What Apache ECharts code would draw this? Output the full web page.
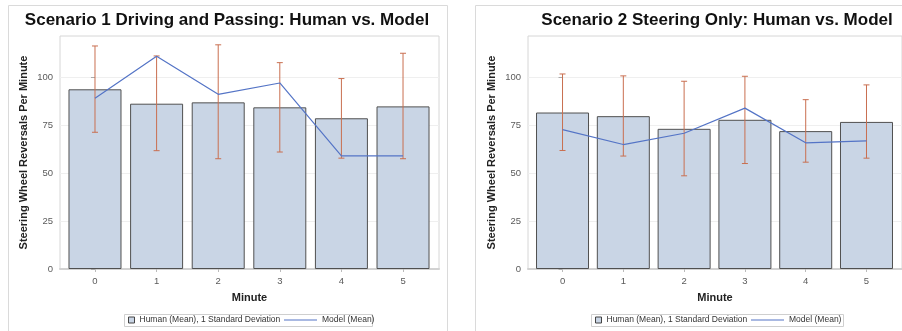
<!DOCTYPE html>
<html>
<head>
<meta charset="utf-8">
<title>Human vs. Model</title>
<script src="https://cdn.jsdelivr.net/npm/echarts@6/dist/echarts.min.js"></script>
<style>
    html, body {margin: 0; padding: 0; background: #fff;}
    #main {width: 902px; height: 331px;}
</style>
</head>
<body>
<div id="main"></div>
<script>
/*数据*/
let minutes = [0, 1, 2, 3, 4, 5];
let yTicks = [0, 25, 50, 75, 100];

/*Scenario 1*/
let s1HumanMean = [93.7, 86.2, 86.9, 84.3, 78.6, 84.8];
let s1HumanLow = [71.3, 61.7, 57.5, 61.0, 57.8, 57.5];
let s1HumanHigh = [116.3, 111.1, 116.9, 107.6, 99.3, 112.5];
let s1ModelMean = [89.0, 111.0, 91.1, 97.0, 59.0, 59.0];

/*Scenario 2*/
let s2HumanMean = [81.6, 79.7, 73.1, 77.8, 71.9, 76.7];
let s2HumanLow = [61.8, 58.9, 48.6, 55.0, 55.7, 57.8];
let s2HumanHigh = [101.7, 100.7, 97.9, 100.5, 88.3, 96.0];
let s2ModelMean = [72.7, 64.9, 70.8, 83.9, 65.8, 66.8];

let titles = ['Scenario 1 Driving and Passing: Human vs. Model', 'Scenario 2 Steering Only: Human vs. Model'];
let humanName = 'Human (Mean), 1 Standard Deviation';
let modelName = 'Model (Mean)';

let font = '"Liberation Sans", Arial, sans-serif';
let barColor = '#c9d5e5';
let errColor = '#c96f50';
let lineColor = '#5474c6';

let myChart = echarts.init(document.getElementById('main'));

/*坐标轴*/
let makeX = (i) => ({
    type: 'value', gridIndex: i, min: -0.568, max: 5.584,
    name: 'Minute', nameLocation: 'middle', nameGap: 23,
    nameTextStyle: {fontFamily: font, fontSize: 11, fontWeight: 'bold', color: '#222'},
    axisLine: {show: true, lineStyle: {color: '#d2d2d2', width: 2}},
    axisTick: {show: true, length: 3, customValues: minutes, lineStyle: {color: '#bbb'}},
    axisLabel: {customValues: minutes, margin: 7, fontFamily: font, fontSize: 9.5, color: '#5a5a5a'},
    splitLine: {show: false}
});

let makeY = (i) => ({
    type: 'value', gridIndex: i, min: 0, max: 121.5,
    name: 'Steering Wheel Reversals Per Minute', nameLocation: 'middle', nameGap: 31,
    nameTextStyle: {fontFamily: font, fontSize: 11, fontWeight: 'bold', color: '#222'},
    axisLine: {show: false},
    axisTick: {show: true, length: 4, customValues: yTicks, lineStyle: {color: '#aaa'}},
    axisLabel: {customValues: yTicks, margin: 7, fontFamily: font, fontSize: 9.5, color: '#5a5a5a'},
    splitLine: {show: true, lineStyle: {color: '#efefef'}}
});

/*误差线*/
let errorSeries = (i, low, high) => ({
    type: 'custom', xAxisIndex: i, yAxisIndex: i, z: 3,
    data: minutes.map((m, k) => [m, low[k], high[k]]),
    renderItem: (params, api) => {
        let top = api.coord([api.value(0), api.value(2)]);
        let bot = api.coord([api.value(0), api.value(1)]);
        let st = {stroke: errColor, lineWidth: 1};
        return {
            type: 'group',
            children: [
                {type: 'line', shape: {x1: top[0], y1: top[1], x2: bot[0], y2: bot[1]}, style: st},
                {type: 'line', shape: {x1: top[0] - 3, y1: top[1], x2: top[0] + 3, y2: top[1]}, style: st},
                {type: 'line', shape: {x1: bot[0] - 3, y1: bot[1], x2: bot[0] + 3, y2: bot[1]}, style: st}
            ]
        };
    }
});

let barSeries = (i, mean) => ({
    name: humanName, type: 'bar', xAxisIndex: i, yAxisIndex: i, barWidth: 53, z: 2,
    itemStyle: {color: barColor, borderColor: '#505050', borderWidth: 1},
    data: minutes.map((m, k) => [m, mean[k]])
});

let lineSeries = (i, model) => ({
    name: modelName, type: 'line', xAxisIndex: i, yAxisIndex: i, z: 4,
    symbol: 'none', lineStyle: {color: lineColor, width: 1.2}, itemStyle: {color: lineColor},
    data: minutes.map((m, k) => [m, model[k]])
});

/*图例*/
let legends = (boxLeft) => ([
    {
        data: [{name: humanName, icon: 'rect'}], left: boxLeft + 4, top: 315.5, padding: 0,
        itemWidth: 6, itemHeight: 6, itemGap: 0,
        itemStyle: {color: barColor, borderColor: '#444', borderWidth: 1},
        textStyle: {fontFamily: font, fontSize: 8.5, color: '#333'}
    },
    {
        data: [{name: modelName, icon: 'path://M0,0H33V1H0Z'}], left: boxLeft + 160, top: 315.5, padding: 0,
        itemWidth: 33, itemHeight: 1.6,
        itemStyle: {color: lineColor, borderWidth: 0},
        textStyle: {fontFamily: font, fontSize: 8.5, color: '#333'}
    }
]);

let option = {
    animation: false,
    backgroundColor: '#fff',
    title: [
        {text: titles[0], left: 227, top: 12, textAlign: 'center', padding: 0,
            textStyle: {fontFamily: font, fontSize: 17, fontWeight: 'bold', color: '#111'}},
        {text: titles[1], left: 717, top: 12, textAlign: 'center', padding: 0,
            textStyle: {fontFamily: font, fontSize: 17, fontWeight: 'bold', color: '#111'}}
    ],
    grid: [
        {left: 60, top: 36, width: 379, height: 233, show: true, borderColor: '#d6d6d6', borderWidth: 1},
        {left: 528, top: 36, width: 379, height: 233, show: true, borderColor: '#d6d6d6', borderWidth: 1}
    ],
    xAxis: [makeX(0), makeX(1)],
    yAxis: [makeY(0), makeY(1)],
    legend: legends(124).concat(legends(591)),
    graphic: [
        /*面板边框*/
        {type: 'rect', shape: {x: 8.5, y: 5.5, width: 439, height: 340}, style: {fill: 'none', stroke: '#dadada'}},
        {type: 'rect', shape: {x: 475.5, y: 5.5, width: 440, height: 340}, style: {fill: 'none', stroke: '#dadada'}},
        /*图例边框*/
        {type: 'rect', shape: {x: 124.5, y: 314.5, width: 248, height: 12}, style: {fill: 'none', stroke: '#cfcfcf'}},
        {type: 'rect', shape: {x: 591.5, y: 314.5, width: 252, height: 12}, style: {fill: 'none', stroke: '#cfcfcf'}}
    ],
    series: [
        barSeries(0, s1HumanMean), errorSeries(0, s1HumanLow, s1HumanHigh), lineSeries(0, s1ModelMean),
        barSeries(1, s2HumanMean), errorSeries(1, s2HumanLow, s2HumanHigh), lineSeries(1, s2ModelMean)
    ]
};

myChart.setOption(option);
</script>
</body>
</html>
